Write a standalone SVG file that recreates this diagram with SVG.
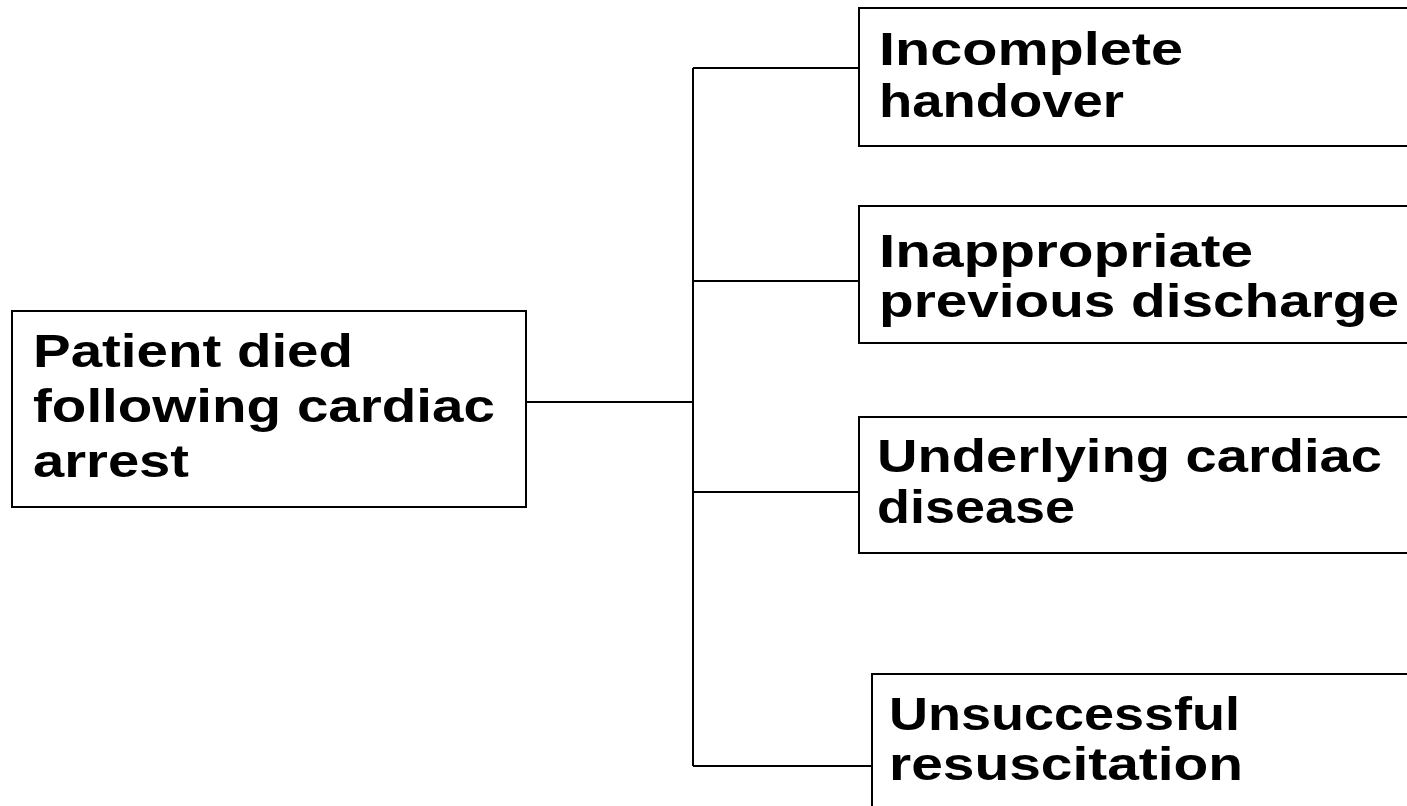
<svg xmlns="http://www.w3.org/2000/svg" width="1407" height="806" viewBox="0 0 1407 806">
<style>
.box{fill:#fff;stroke:#000;stroke-width:2}
.conn{fill:none;stroke:#000;stroke-width:2}
.t{font-family:"Liberation Sans",Arial,sans-serif;font-weight:bold;font-size:46px;fill:#000}
</style>
<rect width="1407" height="806" fill="#fff"/>
<g id="connectors">
<line class="conn" x1="526" y1="402" x2="693" y2="402"/>
<line class="conn" x1="693" y1="68" x2="693" y2="766"/>
<line class="conn" x1="693" y1="68" x2="859" y2="68"/>
<line class="conn" x1="693" y1="281" x2="859" y2="281"/>
<line class="conn" x1="693" y1="492" x2="859" y2="492"/>
<line class="conn" x1="693" y1="766" x2="872" y2="766"/>
</g>
<g id="root">
<rect class="box" x="12" y="311" width="514" height="196"/>
<text class="t" x="33" y="367" textLength="320" lengthAdjust="spacingAndGlyphs">Patient died</text>
<text class="t" x="33" y="422" textLength="462" lengthAdjust="spacingAndGlyphs">following cardiac</text>
<text class="t" x="33" y="477" textLength="156" lengthAdjust="spacingAndGlyphs">arrest</text>
</g>
<g id="n1">
<rect class="box" x="859" y="8" width="560" height="138"/>
<text class="t" x="879" y="65" textLength="304" lengthAdjust="spacingAndGlyphs">Incomplete</text>
<text class="t" x="879" y="117" textLength="245" lengthAdjust="spacingAndGlyphs">handover</text>
</g>
<g id="n2">
<rect class="box" x="859" y="206" width="560" height="137"/>
<text class="t" x="879" y="267" textLength="374" lengthAdjust="spacingAndGlyphs">Inappropriate</text>
<text class="t" x="879" y="317" textLength="520" lengthAdjust="spacingAndGlyphs">previous discharge</text>
</g>
<g id="n3">
<rect class="box" x="859" y="417" width="560" height="136"/>
<text class="t" x="877" y="472" textLength="505" lengthAdjust="spacingAndGlyphs">Underlying cardiac</text>
<text class="t" x="877" y="523" textLength="198" lengthAdjust="spacingAndGlyphs">disease</text>
</g>
<g id="n4">
<rect class="box" x="872" y="674" width="560" height="150"/>
<text class="t" x="889" y="730" textLength="351" lengthAdjust="spacingAndGlyphs">Unsuccessful</text>
<text class="t" x="889" y="780" textLength="354" lengthAdjust="spacingAndGlyphs">resuscitation</text>
</g>
</svg>
